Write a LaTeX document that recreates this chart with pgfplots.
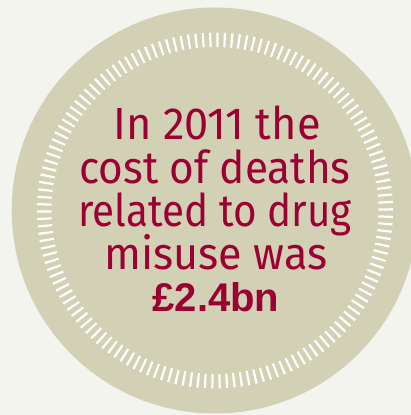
\documentclass[border=0pt]{standalone}
\usepackage{pgfplots}
\pgfplotsset{compat=1.18}
\usepackage{fontspec}
\setmainfont{Fira Sans}
\newfontfamily\boldf{Liberation Sans}
\definecolor{bgc}{RGB}{244,244,238}
\definecolor{disc}{RGB}{210,208,181}
\definecolor{txt}{RGB}{155,0,50}
\begin{document}
\begin{tikzpicture}
\begin{axis}[
  width=411bp, height=415bp, scale only axis,
  xmin=0, xmax=411, ymin=0, ymax=415,
  hide axis, clip=true,
]
\fill[bgc] (axis cs:0,0) rectangle (axis cs:411,415);
\fill[disc] (axis cs:214.7,204.5) circle[radius=203bp];
\draw[white, line width=14.5bp, dash pattern=on 2.2bp off 4.9524bp] (axis cs:215,204.5) circle[radius=170.75bp];
\node[txt, anchor=base, inner sep=0pt, font=\fontsize{45bp}{45bp}\selectfont] at (axis cs:217,275.7) {\scalebox{0.963}[1]{In 2011 the}};
\node[txt, anchor=base, inner sep=0pt, font=\fontsize{45bp}{45bp}\selectfont] at (axis cs:215,231.7) {\scalebox{0.94}[1]{cost of deaths}};
\node[txt, anchor=base, inner sep=0pt, font=\fontsize{45bp}{45bp}\selectfont] at (axis cs:215,188.3) {\scalebox{0.897}[1]{related to drug}};
\node[txt, anchor=base, inner sep=0pt, font=\fontsize{45bp}{45bp}\selectfont] at (axis cs:216,145) {\scalebox{0.957}[1]{misuse was}};
\node[txt, anchor=base, inner sep=0pt, font=\boldf\bfseries\fontsize{40bp}{40bp}\selectfont] at (axis cs:216,103.3) {£2.4bn};
\end{axis}
\end{tikzpicture}
\end{document}
